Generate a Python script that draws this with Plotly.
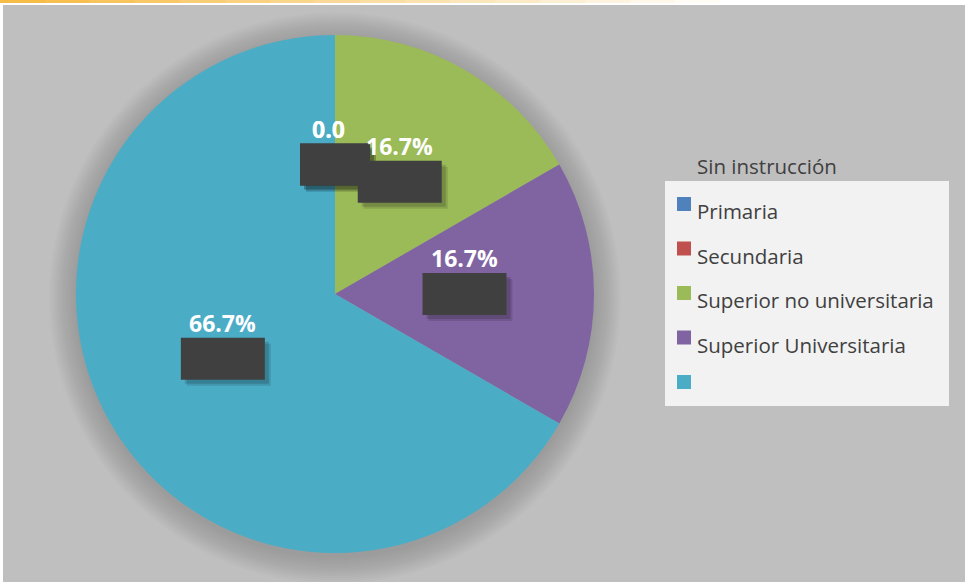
import math
import plotly.graph_objects as go

# ---- data ----
categories = ["Primaria", "Secundaria", "Superior no universitaria", "Superior Universitaria", ""]
values = [0, 0, 1, 1, 4]
label_texts = ["0.0", "0.0", "16.7%", "16.7%", "66.7%"]
colors = ["#4f81bd", "#c0504d", "#9bbb59", "#8064a2", "#4bacc6"]
legend_title = "Sin instrucción"

W, H = 965, 582
def px(x): return x / W
def py(y): return 1 - y / H

# pie geometry (pixels)
cx, cy, r = 335, 294, 259

fig = go.Figure()
fig.add_trace(go.Pie(
    labels=[c if c else " " for c in categories], values=values,
    marker=dict(colors=colors, line=dict(width=0)),
    sort=False, direction="clockwise", rotation=0,
    textinfo="none", hoverinfo="label+percent", showlegend=False,
    domain=dict(x=[px(cx - r), px(cx + r)], y=[py(cy + r), py(cy - r)]),
))

shapes = []
annotations = []
# background
shapes.append(dict(type="rect", xref="paper", yref="paper", x0=px(3), x1=1, y0=0, y1=py(5),
                   fillcolor="#bfbfbf", line=dict(width=0), layer="below"))
# top orange gradient strip
nseg = 16
for i in range(nseg):
    shapes.append(dict(type="rect", xref="paper", yref="paper",
                       x0=px(i * 45), x1=px(i * 45 + 45), y0=py(3), y1=1,
                       fillcolor="#f6b83c", opacity=max(0.0, 0.95 - i * 0.06),
                       line=dict(width=0), layer="below"))
# pie soft shadow (blurred glow)
for k in range(14):
    rr = r + 1 + 2 * k
    shapes.append(dict(type="circle", xref="paper", yref="paper",
                       x0=px(cx - rr), x1=px(cx + rr), y0=py(cy + 4 + rr), y1=py(cy + 4 - rr),
                       fillcolor="black", opacity=0.011, line=dict(width=0), layer="below"))

# data labels with dark boxes, placed at half radius on slice mid-angles
total = sum(values)
cum = 0
for v, t in zip(values, label_texts):
    mid = (cum + v / 2) / total * 2 * math.pi
    cum += v
    bx = cx + 0.5 * r * math.sin(mid)
    by = cy - 0.5 * r * math.cos(mid)
    bw = 7 * len(t) + 49
    bh = 42
    # shadow
    for s, op in [(6, 0.12), (4, 0.15)]:
        shapes.append(dict(type="rect", xref="paper", yref="paper",
                           x0=px(bx - bw / 2 + s), x1=px(bx + bw / 2 + s),
                           y0=py(by + bh / 2 + s), y1=py(by - bh / 2 + s),
                           fillcolor="black", opacity=op, line=dict(width=0)))
    shapes.append(dict(type="rect", xref="paper", yref="paper",
                       x0=px(bx - bw / 2), x1=px(bx + bw / 2),
                       y0=py(by + bh / 2), y1=py(by - bh / 2),
                       fillcolor="#404040", line=dict(width=0)))
    annotations.append(dict(xref="paper", yref="paper", x=px(bx - (7 if v == 0 else 0)), y=py(by - 36),
                            text="<b>%s</b>" % t, showarrow=False,
                            font=dict(family="Open Sans", size=23, color="white"),
                            xanchor="center", yanchor="middle"))

# legend (drawn from category list)
lfont = dict(family="Open Sans", size=20.5, color="#404040")
shapes.append(dict(type="rect", xref="paper", yref="paper", x0=px(665), x1=px(949),
                   y0=py(406), y1=py(181), fillcolor="#f2f2f2", line=dict(width=0)))
annotations.append(dict(xref="paper", yref="paper", x=px(695), y=py(166), text=legend_title,
                        showarrow=False, xanchor="left", yanchor="middle", font=lfont))
for i, (c, col) in enumerate(zip(categories, colors)):
    yc = 211 + i * 44.5
    shapes.append(dict(type="rect", xref="paper", yref="paper", x0=px(677), x1=px(691),
                       y0=py(yc), y1=py(yc - 14), fillcolor=col, line=dict(width=0)))
    if c:
        annotations.append(dict(xref="paper", yref="paper", x=px(695), y=py(yc), text=c,
                                showarrow=False, xanchor="left", yanchor="middle", font=lfont))

fig.update_layout(
    width=W, height=H, margin=dict(l=0, r=0, t=0, b=0),
    paper_bgcolor="white", plot_bgcolor="white",
    shapes=shapes, annotations=annotations, showlegend=False,
)
fig.write_html("out.html", config={"displayModeBar": False},
               post_script="document.body.style.margin='0';")
